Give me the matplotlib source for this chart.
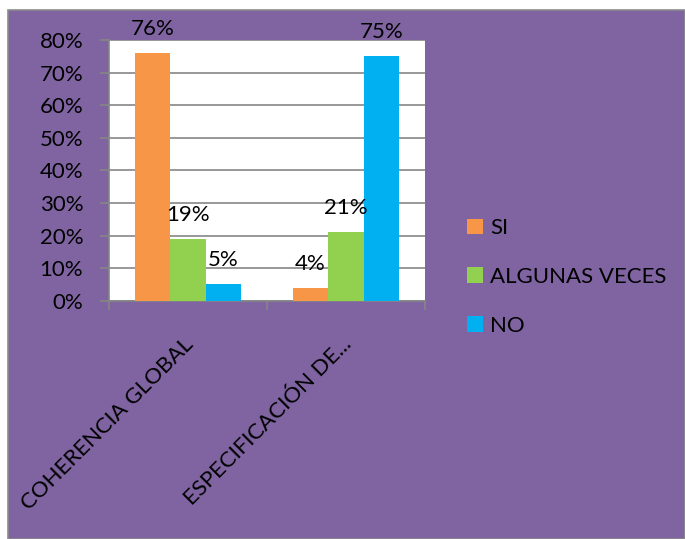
import matplotlib
matplotlib.use("Agg")
import matplotlib.pyplot as plt
import matplotlib.transforms as mtransforms
from matplotlib.patches import Rectangle, Patch
from matplotlib.ticker import FixedLocator, PercentFormatter

categories = ["COHERENCIA GLOBAL", "ESPECIFICACIÓN DE..."]
series_names = ["SI", "ALGUNAS VECES", "NO"]
si = [0.76, 0.04]
algunas = [0.19, 0.21]
no = [0.05, 0.75]
series_values = [si, algunas, no]
colors = ["#F79646", "#92D050", "#00B0F0"]
yticks = [0, 0.1, 0.2, 0.3, 0.4, 0.5, 0.6, 0.7, 0.8]

plt.rcParams['font.family'] = ['Lato', 'DejaVu Sans']
FS = 16

fig = plt.figure(figsize=(6.85, 5.39), dpi=100)
fig.patch.set_facecolor('white')
bg = Rectangle((8/685, 0), 1 - 8/685, 1 - 10/539, transform=fig.transFigure,
               facecolor='#8064A2', edgecolor='#8C8C8C', linewidth=1.2, zorder=-10)
fig.add_artist(bg)

ax = fig.add_axes([109/685, 1 - 300.7/539, (425 - 109)/685, (300.7 - 40)/539])
ax.set_zorder(1)
ax.set_facecolor('white')

w = 0.224
offsets = [-w, 0, w]
centers = [i + 0.5 for i in range(len(categories))]
for vals, off, col, name in zip(series_values, offsets, colors, series_names):
    xs = [c + off for c in centers]
    bars = ax.bar(xs, vals, width=w, color=col, label=name, zorder=3)
    for x, v in zip(xs, vals):
        ax.annotate(f"{round(v*100)}%", (x, v), xytext=(0, 13), textcoords='offset points',
                    ha='center', va='baseline', fontsize=FS, color='black',
                    annotation_clip=False, zorder=4)

ax.set_xlim(0, len(categories))
ax.set_ylim(0, 0.8)
ax.set_yticks(yticks)
ax.yaxis.set_major_formatter(PercentFormatter(1.0, decimals=0))
ax.yaxis.grid(True, color='#868686', linewidth=1.2, zorder=0)
ax.set_axisbelow(True)
ax.tick_params(axis='y', length=6.5, width=1.2, color='#868686', pad=12, labelsize=FS)

ax.set_xticks(centers)
ax.set_xticklabels(categories, rotation=45, ha='right', va='top', rotation_mode='anchor', fontsize=FS)
ax.xaxis.set_minor_locator(FixedLocator([0, 1, 2]))
ax.tick_params(axis='x', which='major', length=0, pad=24)
ax.tick_params(axis='x', which='minor', length=6.5, width=1.2, color='#868686')
shift = mtransforms.ScaledTranslation(-5/100, 0, fig.dpi_scale_trans)
for lbl in ax.get_xticklabels():
    lbl.set_transform(lbl.get_transform() + shift)

for s in ['top', 'right']:
    ax.spines[s].set_visible(False)
for s in ['left', 'bottom']:
    ax.spines[s].set_color('#868686')
    ax.spines[s].set_linewidth(1.2)

handles = [Patch(facecolor=c, edgecolor='none') for c in colors]
fig.legend(handles, series_names, loc='center left',
           bbox_to_anchor=(467/685, 1 - 277/539), frameon=False, fontsize=FS,
           handlelength=0.7, handleheight=0.7, handletextpad=0.35,
           labelspacing=1.3, borderpad=0, borderaxespad=0)

fig.savefig('out.png', dpi=100, facecolor=fig.get_facecolor())
